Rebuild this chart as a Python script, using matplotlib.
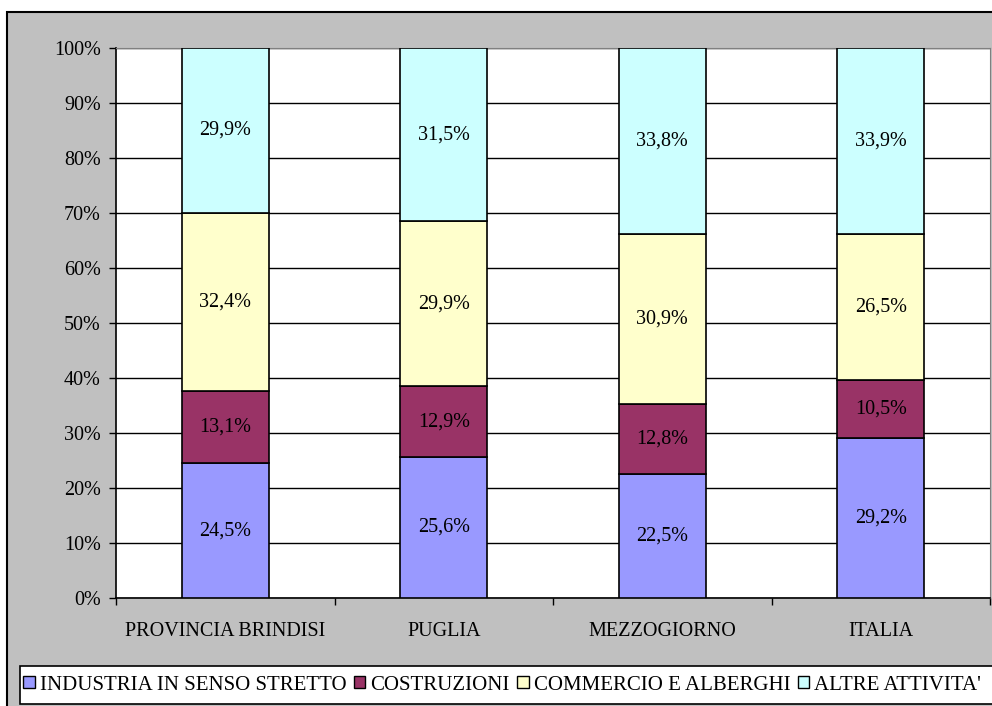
import numpy as np
import matplotlib
matplotlib.use('Agg')
import matplotlib.pyplot as plt
from matplotlib.patches import Rectangle, Patch

# dati: ripartizione occupati per settore (%)
aree = ["PROVINCIA BRINDISI", "PUGLIA", "MEZZOGIORNO", "ITALIA"]
settori = ["INDUSTRIA IN SENSO STRETTO", "COSTRUZIONI", "COMMERCIO E ALBERGHI", "ALTRE ATTIVITA'"]
industria = [24.5, 25.6, 22.5, 29.2]
costruzioni = [13.1, 12.9, 12.8, 10.5]
commercio = [32.4, 29.9, 30.9, 26.5]
altre = [29.9, 31.5, 33.8, 33.9]
colori = ["#9999FF", "#993366", "#FFFFCC", "#CCFFFF"]

serie = np.array([industria, costruzioni, commercio, altre])
# grafico in pila 100%
quote = serie / serie.sum(axis=0) * 100

W, H = 992, 706
fig = plt.figure(figsize=(W / 100, H / 100), dpi=100)
fig.patch.set_facecolor("white")

# sfondo grigio dell'area grafico
fig.patches.append(Rectangle((7 / W, -0.02), 1.0, (706 - 12) / H + 0.02, transform=fig.transFigure,
                             facecolor="#C0C0C0", edgecolor="black", linewidth=1.5, zorder=-10))

ax = fig.add_axes([116 / W, (H - 598) / H, (990 - 116) / W, (598 - 48) / H])
ax.set_facecolor("white")

serif = "Liberation Serif"
fs = 14.5
x = np.arange(len(aree))
base = np.zeros(len(aree))
for i in range(len(settori)):
    ax.bar(x, quote[i], 0.4, bottom=base, color=colori[i], edgecolor="black", linewidth=1.2, zorder=3)
    for j in range(len(aree)):
        ax.text(x[j], base[j] + quote[i][j] / 2, ("%.1f%%" % serie[i][j]).replace(".", ","),
                ha="center", va="center", fontsize=fs, family=serif, zorder=4)
    base = base + quote[i]

ax.set_xlim(-0.5, 3.5)
ax.set_ylim(0, 100)
ax.set_yticks(np.arange(0, 101, 10))
ax.set_yticklabels(["%d%%" % v for v in range(0, 101, 10)], family=serif, fontsize=fs)
ax.yaxis.grid(True, color="black", linewidth=1)
ax.set_axisbelow(True)
ax.tick_params(axis="y", direction="out", length=5, width=1, pad=6)

ax.set_xticks(np.arange(-0.5, 3.6, 1))
ax.set_xticklabels([])
ax.set_xticks(x, minor=True)
ax.set_xticklabels(aree, minor=True, family=serif, fontsize=fs)
ax.tick_params(axis="x", which="major", direction="out", length=5, width=1)
ax.tick_params(axis="x", which="minor", length=0, pad=17)

for s in ["top", "right"]:
    ax.spines[s].set_color("#808080")
ax.spines["left"].set_linewidth(1.2)
ax.spines["bottom"].set_linewidth(1.2)

# legenda
fig.patches.append(Rectangle((20 / W, (H - 704) / H), 1.0, 38 / H, transform=fig.transFigure,
                             facecolor="white", edgecolor="black", linewidth=1.2, zorder=-5))
maniglie = [Patch(facecolor=c, edgecolor="black", linewidth=1) for c in colori]
leg = fig.legend(maniglie, settori, loc="center left", bbox_to_anchor=(15 / W, (H - 685) / H),
                 ncol=4, frameon=False, prop={"family": serif, "size": 15},
                 handlelength=0.55, handleheight=0.55, handletextpad=0.25, columnspacing=0.35,
                 borderaxespad=0)

fig.savefig("out.png", dpi=100)
